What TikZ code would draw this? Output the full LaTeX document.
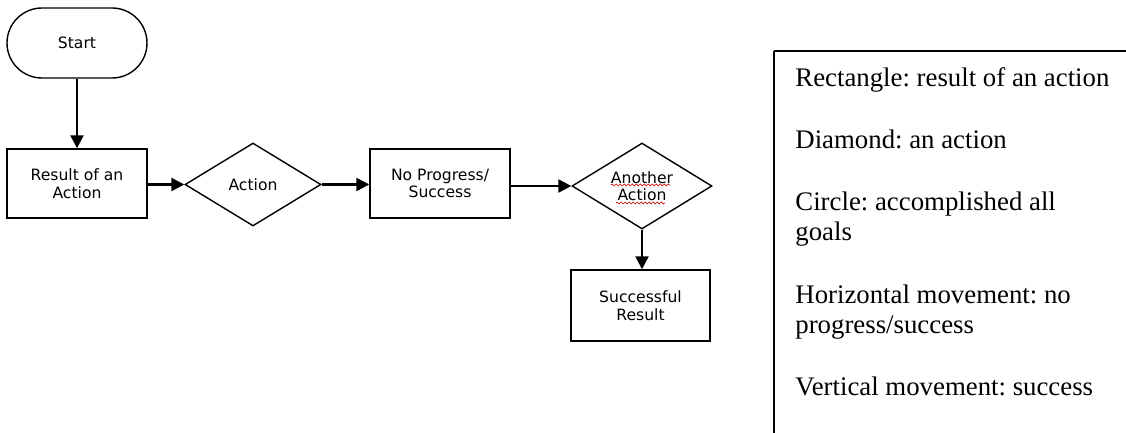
\documentclass[tikz,border=0pt]{standalone}
\usepackage{fontspec}
\setmainfont{Liberation Serif}
\newfontfamily\flowfont{DejaVu Sans}
\usetikzlibrary{shapes.geometric,shapes.misc,arrows.meta,decorations.pathmorphing}
\frenchspacing

\tikzset{
  box/.style={draw, line width=0.7pt, rectangle, inner sep=0pt,
    minimum width=70pt, minimum height=34.5pt, align=center,
    font=\flowfont\fontsize{7.8pt}{8.7pt}\selectfont},
  terminal/.style={box, rounded rectangle},
  decision/.style={box, diamond, shape aspect=1.6},
  flowarrow/.style={line width=1.2pt, -{Triangle[length=6.5pt,width=6.5pt]}},
  legendtext/.style={anchor=base west, inner sep=0pt,
    font=\fontsize{13.4pt}{15pt}\selectfont},
  squiggle/.style={red!80!black, line width=0.35pt,
    decorate, decoration={snake, amplitude=0.5pt, segment length=2pt}}
}

\begin{document}
\begin{tikzpicture}[x=0.5pt, y=-0.5pt]
  \useasboundingbox (0,0) rectangle (1126,433);

  % flowchart
  \node[terminal, minimum width=70pt, minimum height=35pt] (start) at (77,43) {Start};
  \node[box] (res) at (77,183.5) {Result of an\\Action};
  \node[decision, minimum width=68pt, minimum height=41.5pt] (act) at (253,184.5) {Action};
  \node[box] (noprog) at (440,183.5) {No Progress/\\Success};
  \node[decision, minimum width=70pt, minimum height=43pt] (another) at (642,186) {Another\\Action};
  \node[box, minimum width=69.5pt, minimum height=35.5pt] (succ) at (640.5,305.5) {Successful\\Result};

  % spell-check underlines
  \draw[squiggle] (611,185) -- (670,185);
  \draw[squiggle] (616,203) -- (665,203);

  % connectors
  \draw[flowarrow] (start.south) -- (res.north);
  \draw[flowarrow] (res.east |- act.west) -- (act.west);
  \draw[flowarrow] (act.east) -- (act.east -| noprog.west);
  \draw[flowarrow] (another.west -| noprog.east) -- (another.west);
  \draw[flowarrow] (another.south) -- (another.south |- succ.north);

  % legend frame
  \draw[line width=0.8pt] (1126,51) -- (774,51);
  \draw[line width=1.1pt] (774,51) -- (774,433);

  % legend text
  \node[legendtext] (l1) at (795,87) {Rectangle: result of an action};
  \node[legendtext] (l2) at (795,149) {Diamond: an action};
  \node[legendtext] (l3) at (795,211) {Circle: accomplished all};
  \node[legendtext] (l3b) at (795,241) {goals};
  \node[legendtext] (l4) at (795,303) {Horizontal movement: no};
  \node[legendtext] (l4b) at (795,333) {progress/success};
  \node[legendtext] (l5) at (795,395) {Vertical movement: success};
\end{tikzpicture}
\end{document}
